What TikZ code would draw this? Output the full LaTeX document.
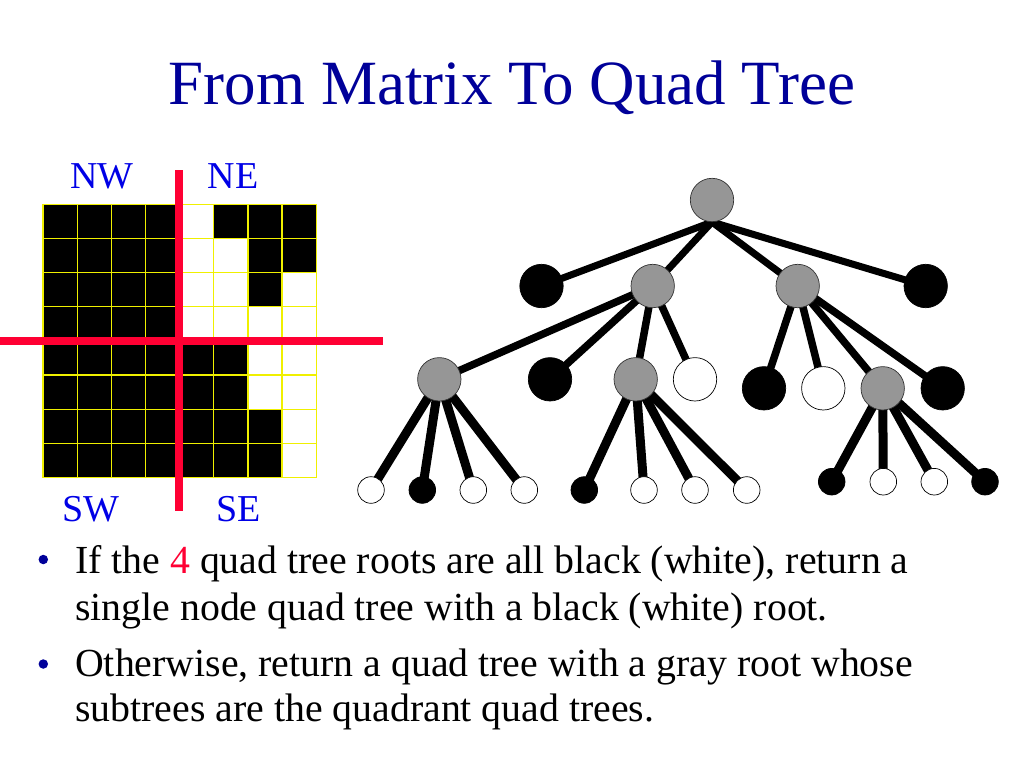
\documentclass[tikz,border=0pt]{standalone}
\usepackage{fontspec}
\setmainfont{Liberation Serif}
\definecolor{titleblue}{RGB}{0,0,153}
\definecolor{lblblue}{RGB}{0,0,230}
\definecolor{qred}{RGB}{255,0,51}
\definecolor{qgray}{RGB}{150,150,150}
\definecolor{gridyellow}{RGB}{240,240,0}
\pgfdeclarelayer{edges}
\pgfsetlayers{edges,main}
\begin{document}
\begin{tikzpicture}[x=1pt,y=-1pt,
  qnode/.style={circle, inner sep=0pt, minimum size=43.4pt, draw=black, line width=0.7pt},
  gnode/.style={qnode, fill=qgray, draw=black!80},
  bnode/.style={qnode, fill=black},
  wnode/.style={qnode, fill=white},
  lsize/.style={minimum size=26.6pt},
  topedge/.style={line width=7pt},
  midedge/.style={line width=7.5pt},
  leafedge/.style={line width=9pt},
  gridline/.style={draw=gridyellow, line width=1.3pt},
  redbar/.style={draw=qred, line width=8pt},
  quadlbl/.style={anchor=base, inner sep=0pt, text=lblblue, font=\fontsize{38}{44}\selectfont},
  bodytext/.style={anchor=base west, inner sep=0pt, font=\fontsize{39.8}{46}\selectfont},
  bulletdot/.style={circle, fill=titleblue, inner sep=0pt, minimum size=9.5pt}
]
\useasboundingbox (0,0) rectangle (1024,768);

% title
\node[anchor=base, inner sep=0pt, text=titleblue, font=\fontsize{63}{70}\selectfont] (title) at (512,104) {From Matrix To Quad Tree};

% matrix
\def\gx{43}
\def\gy{204.3}
\def\cs{34.15}
\fill[black] (\gx,\gy) rectangle ++({4*\cs},{8*\cs});
\foreach \r/\c in {0/5,0/6,0/7,1/6,1/7,2/6,4/4,4/5,5/4,5/5,6/4,6/5,6/6,7/4,7/5,7/6}
  \fill[black] ({\gx+\c*\cs},{\gy+\r*\cs}) rectangle ++(\cs,\cs);
\foreach \i in {0,...,8} {
  \draw[gridline] ({\gx+\i*\cs},\gy) -- ++(0,{8*\cs});
  \draw[gridline] (\gx,{\gy+\i*\cs}) -- ++({8*\cs},0);
}
\coordinate (vtop) at (179.2,170);
\coordinate (vbot) at (179.2,511);
\coordinate (hleft) at (0,341);
\coordinate (hright) at (383,341);
\draw[redbar] (vtop) -- (vbot);
\draw[redbar] (hleft) -- (hright);

\node[quadlbl] (nw) at (102,188.5) {NW};
\node[quadlbl] (ne) at (233,188.5) {NE};
\node[quadlbl] (sw) at (90.5,521.5) {SW};
\node[quadlbl] (se) at (238.3,521.5) {SE};

% tree nodes
\node[gnode] (root) at (712,200) {};
\node[bnode] (b1) at (541.5,286) {};
\node[gnode] (g1) at (652.7,286) {};
\node[gnode] (g2) at (797.7,286) {};
\node[bnode] (b2) at (925.7,286) {};

\node[gnode] (la) at (439.3,379.3) {};
\node[bnode] (lb) at (550,379.3) {};
\node[gnode] (lc) at (635.7,379.3) {};
\node[wnode] (ld) at (695,379.3) {};
\node[bnode] (le) at (764,388.3) {};
\node[wnode] (lf) at (823.3,388.3) {};
\node[gnode] (lg) at (882.7,388.3) {};
\node[bnode] (lh) at (942.7,388.3) {};

\node[wnode,lsize] (a1) at (371,490) {};
\node[bnode,lsize] (a2) at (422.3,490) {};
\node[wnode,lsize] (a3) at (473.3,490) {};
\node[wnode,lsize] (a4) at (524.3,490) {};
\node[bnode,lsize] (c1) at (584.3,490) {};
\node[wnode,lsize] (c2) at (644,490) {};
\node[wnode,lsize] (c3) at (695,490) {};
\node[wnode,lsize] (c4) at (746.7,490) {};
\node[bnode,lsize] (g1l) at (831.7,481.7) {};
\node[wnode,lsize] (g2l) at (883.3,481.7) {};
\node[wnode,lsize] (g3l) at (934.3,481.7) {};
\node[bnode,lsize] (g4l) at (985,481.7) {};

\begin{pgfonlayer}{edges}
\foreach \ch in {b1,g1,g2,b2}
  \draw[topedge] (root.south) -- (\ch.center);
\foreach \ch in {la,lb,lc,ld}
  \draw[midedge] (g1.center) -- (\ch.center);
\foreach \ch in {le,lf,lg,lh}
  \draw[midedge] (g2.center) -- (\ch.center);
\foreach \ch in {a1,a2,a3,a4}
  \draw[leafedge] (la.center) -- (\ch.center);
\foreach \ch in {c1,c2,c3,c4}
  \draw[leafedge] (lc.center) -- (\ch.center);
\foreach \ch in {g1l,g2l,g3l,g4l}
  \draw[leafedge] (lg.center) -- (\ch.center);
\end{pgfonlayer}

% bullets
\node[bulletdot] (d1) at (43.3,559.5) {};
\node[bodytext] (t1) at (75,573.3) {If the \textcolor{qred}{4} quad tree roots are all black (white), return a};
\node[bodytext] (t2) at (75,620) {single node quad tree with a black (white) root.};
\node[bulletdot] (d2) at (43.3,664) {};
\node[bodytext] (t3) at (75,676.7) {Otherwise, return a quad tree with a gray root whose};
\node[bodytext] (t4) at (75,721.7) {subtrees are the quadrant quad trees.};
\end{tikzpicture}
\end{document}
